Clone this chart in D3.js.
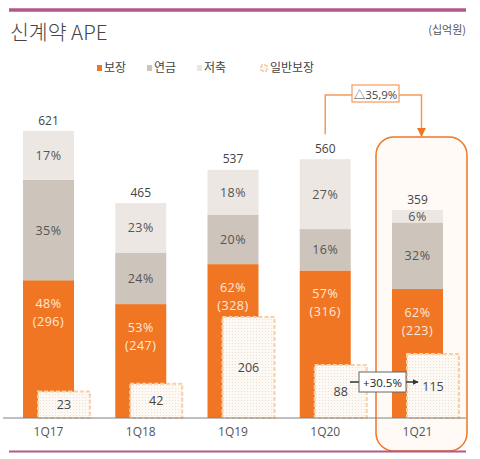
<!DOCTYPE html>
<html><head><meta charset="utf-8">
<script src="https://cdn.jsdelivr.net/npm/d3@7"></script>
<style>
html,body{margin:0;padding:0;background:#fff;}
svg{display:block;font-family:"Open Sans","Noto Sans CJK KR",sans-serif;}
</style></head>
<body>
<svg id="c" width="480" height="459"></svg>
<script>
const quarters = ["1Q17","1Q18","1Q19","1Q20","1Q21"];
const totals = [621, 465, 537, 560, 359];
const pctSaving = [17, 23, 18, 27, 6];     // 저축
const pctPension = [35, 24, 20, 16, 32];   // 연금
const pctProtect = [48, 53, 62, 57, 62];   // 보장
const protectValues = [296, 247, 328, 316, 223];
const generalProtect = [23, 42, 206, 88, 115]; // 일반보장
const legendLabels = ["보장","연금","저축","일반보장"];
const growthTotal = "△35,9%";
const growthGeneral = "+30.5%";

const C = {orange:"#f07623", pension:"#cdc4bc", saving:"#ece7e3", text:"#555", mauve:"#b05a88"};
const svg = d3.select("#c");
const defs = svg.append("defs");
const pat = defs.append("pattern").attr("id","dots").attr("width",3).attr("height",3).attr("patternUnits","userSpaceOnUse");
pat.append("rect").attr("width",3).attr("height",3).attr("fill","#fdf9f5");
pat.append("circle").attr("cx",1.5).attr("cy",1.5).attr("r",0.6).attr("fill","#ecdccd");
defs.append("marker").attr("id","arrO").attr("viewBox","0 0 10 10").attr("refX",9).attr("refY",5)
  .attr("markerWidth",6).attr("markerHeight",6).attr("orient","auto")
  .append("path").attr("d","M0,0L10,5L0,10Z").attr("fill",C.orange);
defs.append("marker").attr("id","arrK").attr("viewBox","0 0 10 10").attr("refX",9).attr("refY",5)
  .attr("markerWidth",4).attr("markerHeight",4).attr("orient","auto")
  .append("path").attr("d","M0,0L10,5L0,10Z").attr("fill","#333");

const base = 418;
const x = d3.scaleBand().domain(quarters).range([23,443]).paddingInner(0.447).paddingOuter(0);
const y = d3.scaleLinear().domain([0,621]).range([base,131]);
const yHi = d3.scaleLinear().domain([0,359]).range([base,210]); // emphasised quarter
const yBox = d3.scaleLinear().domain([0,206]).range([401,317]);
const bw = x.bandwidth();
const hiIdx = 4;

// top rule
svg.append("line").attr("x1",9).attr("x2",466).attr("y1",10).attr("y2",10).attr("stroke",C.mauve).attr("stroke-width",3.5);

// title
svg.append("text").attr("x",10).attr("y",40).attr("font-size",20.5).attr("fill","#444")
  .attr("font-family","'Noto Sans CJK KR',sans-serif").attr("font-weight",300).text("신계약 APE");
svg.append("text").attr("x",466).attr("y",34).attr("text-anchor","end").attr("font-size",11).attr("fill",C.text)
  .attr("font-family","'Noto Sans CJK KR',sans-serif").text("(십억원)");

// legend
const lg = [{x:97,c:C.orange},{x:147,c:C.pension},{x:197,c:C.saving},{x:261,c:null}];
lg.forEach((d,i)=>{
  if(d.c) svg.append("rect").attr("x",d.x).attr("y",65).attr("width",5).attr("height",6).attr("fill",d.c);
  else svg.append("rect").attr("x",d.x).attr("y",65).attr("width",6).attr("height",6).attr("fill","url(#dots)")
    .attr("stroke","#f6c79a").attr("stroke-width",1.5).attr("stroke-dasharray","2,1");
  svg.append("text").attr("x",d.x+(i==3?9:7)).attr("y",72).attr("font-size",12).attr("fill","#444")
    .attr("font-family","'Noto Sans CJK KR',sans-serif").text(legendLabels[i]);
});

// highlight panel
const hx0 = 376, hx1 = 467;
svg.append("rect").attr("x",hx0).attr("y",137).attr("width",hx1-hx0).attr("height",451-137).attr("rx",18)
  .attr("fill","#fffaf6").attr("stroke",C.orange).attr("stroke-width",1.5);

// bars
quarters.forEach((q,i)=>{
  const sc = i===hiIdx ? yHi : y;
  const t = totals[i];
  const vP = t*pctProtect[i]/100, vN = t*pctPension[i]/100;
  const x0 = x(q), cx = x0 + bw/2;
  const yP = sc(vP), yN = sc(vP+vN), yT = sc(t);
  svg.append("rect").attr("x",x0).attr("y",yP).attr("width",bw).attr("height",base-yP).attr("fill",C.orange);
  svg.append("rect").attr("x",x0).attr("y",yN).attr("width",bw).attr("height",yP-yN).attr("fill",C.pension);
  svg.append("rect").attr("x",x0).attr("y",yT).attr("width",bw).attr("height",yN-yT).attr("fill",C.saving);
  const lab = (yy,txt,col)=>svg.append("text").attr("x",cx).attr("y",yy).attr("text-anchor","middle")
    .attr("dominant-baseline","central").attr("font-size",12.5).attr("fill",col).attr("letter-spacing",0.5).text(txt);
  lab((yT+yN)/2, pctSaving[i]+"%", C.text);
  lab((yN+yP)/2, pctPension[i]+"%", C.text);
  lab(yP+23, pctProtect[i]+"%", "#fde9da");
  lab(yP+41, "("+protectValues[i]+")", "#fde9da");
  svg.append("text").attr("x",cx).attr("y",yT-11).attr("text-anchor","middle").attr("dominant-baseline","central")
    .attr("font-size",12).attr("fill","#444").text(t);
  // 일반보장 box
  const bx = x0+15, by = yBox(generalProtect[i]);
  svg.append("rect").attr("x",bx).attr("y",by).attr("width",52).attr("height",base-by)
    .attr("fill","url(#dots)").attr("stroke","#f8cfa6").attr("stroke-width",2).attr("stroke-dasharray","4,2");
  svg.append("text").attr("x",bx+26).attr("y",(by+base)/2).attr("text-anchor","middle").attr("dominant-baseline","central")
    .attr("font-size",12.5).attr("fill","#444").text(generalProtect[i]);
});

// axis
svg.append("line").attr("x1",3).attr("x2",466).attr("y1",base).attr("y2",base).attr("stroke","#808080").attr("stroke-width",1);
const ax = svg.append("g").attr("transform",`translate(0,${base})`)
  .call(d3.axisBottom(x).tickSize(0).tickPadding(9));
ax.select(".domain").remove();
ax.selectAll("text").attr("font-size",12).attr("fill",C.text).attr("font-family","'Open Sans',sans-serif");

// bottom rule
svg.append("line").attr("x1",9).attr("x2",466).attr("y1",451.5).attr("y2",451.5).attr("stroke",C.mauve).attr("stroke-width",2);

// △35,9% connector
const c20 = x("1Q20")+bw/2, hc = (hx0+hx1)/2;
svg.append("path").attr("d",`M${c20},${y(totals[3])-25}V95H${hc}V136`).attr("fill","none")
  .attr("stroke","#f39a5a").attr("stroke-width",1.5).attr("marker-end","url(#arrO)");
svg.append("rect").attr("x",352).attr("y",85).attr("width",47).attr("height",17).attr("fill","#fff")
  .attr("stroke","#f39a5a").attr("stroke-width",1.2);
svg.append("text").attr("x",375.5).attr("y",94).attr("text-anchor","middle").attr("dominant-baseline","central")
  .attr("font-size",11.5).attr("fill","#444").text(growthTotal);

// +30.5% connector
svg.append("line").attr("x1",350).attr("x2",359).attr("y1",382).attr("y2",382).attr("stroke","#333").attr("stroke-width",1.5);
svg.append("line").attr("x1",406).attr("x2",418).attr("y1",382).attr("y2",382).attr("stroke","#333").attr("stroke-width",1.5)
  .attr("marker-end","url(#arrK)");
svg.append("rect").attr("x",359).attr("y",372).attr("width",47).attr("height",20).attr("fill","#fff")
  .attr("stroke","#666").attr("stroke-width",1);
svg.append("text").attr("x",382.5).attr("y",382).attr("text-anchor","middle").attr("dominant-baseline","central")
  .attr("font-size",11.5).attr("fill","#222").text(growthGeneral);
</script>
</body></html>
